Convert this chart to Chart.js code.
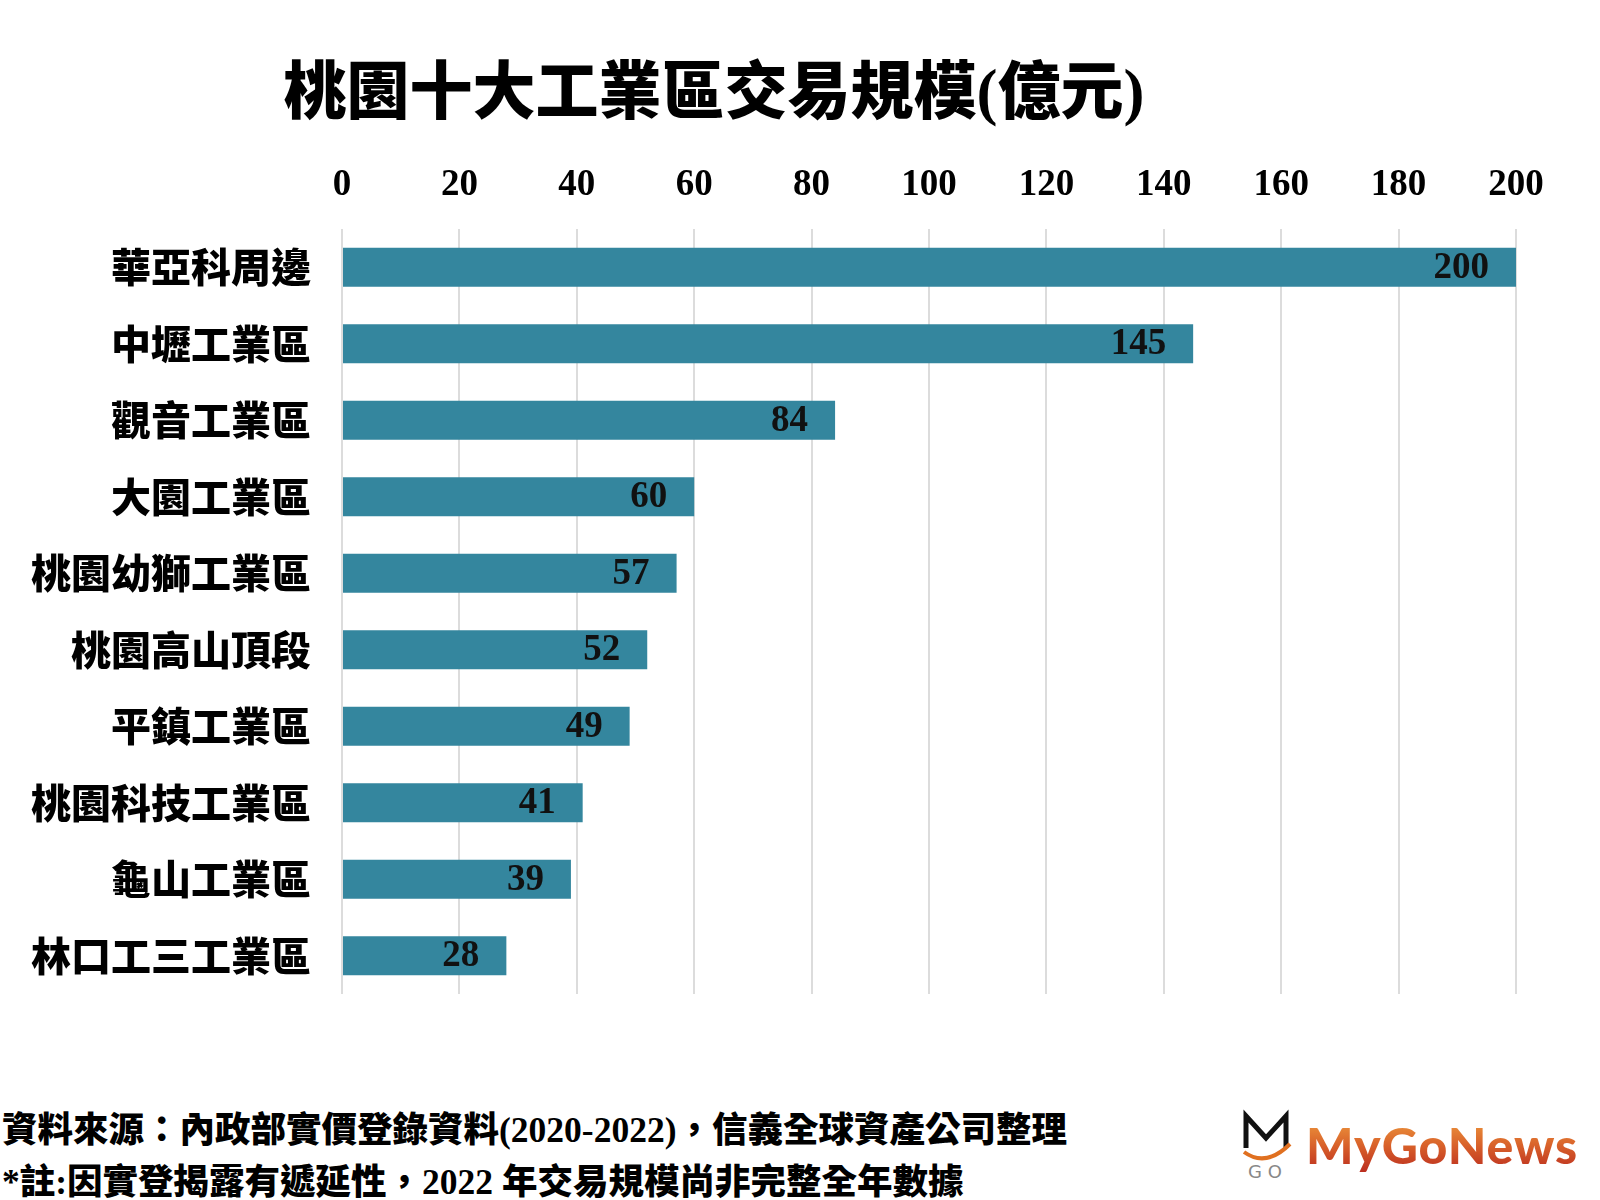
<!DOCTYPE html>
<html>
<head>
<meta charset="utf-8">
<script src="https://cdn.jsdelivr.net/npm/chart.js@4"></script>
<style>
  body { margin: 0; background: #fff; }
  #wrap { position: relative; width: 1600px; height: 1200px; overflow: hidden; background: #fff; }
  #title { position: absolute; left: 0; top: 52px; width: 1428px; height: 80px; line-height: 80px; text-align: center;
    font-family: "Liberation Serif", "Noto Sans CJK TC"; font-weight: 900; font-size: 63px; color: #000; }
  #chartBox { position: absolute; left: 0; top: 140px; width: 1600px; height: 901px; }
  #foot { position: absolute; left: 2px; top: 1104px; font-family: "Liberation Serif", "Noto Sans CJK TC"; font-weight: 900;
    font-size: 35.5px; line-height: 52px; color: #000; white-space: nowrap; }
  #logo { position: absolute; left: 1240px; top: 1105px; height: 80px; display: flex; align-items: center; }
  #logo span { font-family: Lato, "Noto Sans"; font-weight: 900; font-size: 50px; letter-spacing: 1px;
    background: linear-gradient(#f0a040, #d9622a 50%, #b8281e); -webkit-background-clip: text; background-clip: text; color: transparent; margin-left: 14px; }
</style>
</head>
<body>
<div id="wrap">
  <div id="title">桃園十大工業區交易規模(億元)</div>
  <div id="chartBox"><canvas id="chart" width="1600" height="901"></canvas></div>
  <div id="foot">資料來源：內政部實價登錄資料(2020-2022)，信義全球資產公司整理<br>*註:因實登揭露有遞延性，2022 年交易規模尚非完整全年數據</div>
  <div id="logo">
    <svg width="52" height="74" viewBox="0 0 52 74">
      <path d="M6 40 L6 8 L26 30 L46 8 L46 40" fill="none" stroke="#111" stroke-width="5"/>
      <path d="M4 44 Q26 60 50 36" fill="none" stroke="#e07020" stroke-width="4"/>
      <text x="8" y="70" font-family="DejaVu Sans" font-size="18" fill="#888">G O</text>
    </svg>
    <span>MyGoNews</span>
  </div>
</div>
<script>
const categories = ['華亞科周邊', '中壢工業區', '觀音工業區', '大園工業區', '桃園幼獅工業區', '桃園高山頂段', '平鎮工業區', '桃園科技工業區', '龜山工業區', '林口工三工業區'];
const values = [200, 145, 84, 60, 57, 52, 49, 41, 39, 28];
const xMin = 0, xMax = 200, xStep = 20;

const barLabels = {
  id: 'barLabels',
  afterDatasetsDraw(chart) {
    const ctx = chart.ctx;
    const meta = chart.getDatasetMeta(0);
    ctx.save();
    ctx.font = 'bold 37px "Liberation Serif"';
    ctx.fillStyle = '#111';
    ctx.textAlign = 'right';
    ctx.textBaseline = 'middle';
    meta.data.forEach((bar, i) => {
      ctx.fillText(String(values[i]), bar.x - 27, bar.y + 1);
    });
    ctx.restore();
  }
};

new Chart(document.getElementById('chart').getContext('2d'), {
  type: 'bar',
  data: {
    labels: categories,
    datasets: [{
      data: values,
      backgroundColor: '#34869e',
      barPercentage: 0.51,
      categoryPercentage: 1
    }]
  },
  options: {
    indexAxis: 'y',
    responsive: false,
    animation: false,
    layout: { padding: { left: 0, right: 84, top: 0, bottom: 27 } },
    plugins: { legend: { display: false }, tooltip: { enabled: false } },
    scales: {
      x: {
        position: 'top',
        min: xMin,
        max: xMax,
        ticks: { stepSize: xStep, padding: 21, color: '#000', font: { family: '"Liberation Serif"', weight: 'bold', size: 37 } },
        grid: { color: '#dcdcdc', lineWidth: 2, drawTicks: false },
        border: { display: false },
        afterFit(scale) { scale.height = 89; }
      },
      y: {
        ticks: { padding: 23, color: '#000', font: { family: '"Noto Sans CJK TC"', weight: 900, size: 40 } },
        grid: { display: false },
        border: { display: false },
        afterFit(scale) { scale.width = 342; }
      }
    }
  },
  plugins: [barLabels]
});
</script>
</body>
</html>
